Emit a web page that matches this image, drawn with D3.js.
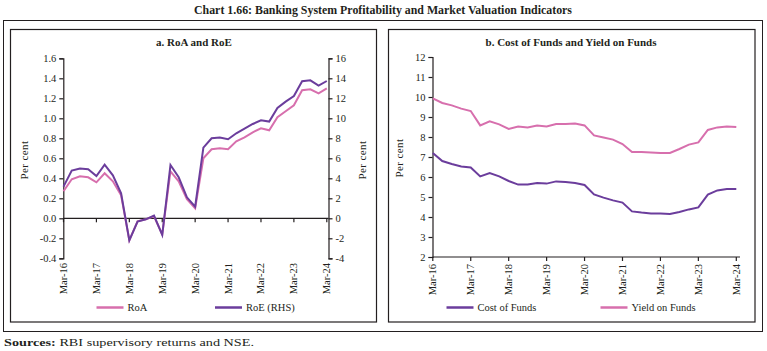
<!DOCTYPE html>
<html>
<head>
<meta charset="utf-8">
<script src="https://cdn.jsdelivr.net/npm/d3@7"></script>
<style>
  body { margin: 0; background: #fff; }
  svg text { font-family: "Liberation Serif", "Times New Roman", serif; fill: #231f20; }
</style>
</head>
<body>
<svg id="chart" width="767" height="351"></svg>
<script>
// Quarterly labels, Mar-16 .. Mar-24
const quarters = ["Mar-16", "Jun-16", "Sep-16", "Dec-16", "Mar-17", "Jun-17", "Sep-17", "Dec-17",
    "Mar-18", "Jun-18", "Sep-18", "Dec-18", "Mar-19", "Jun-19", "Sep-19", "Dec-19",
    "Mar-20", "Jun-20", "Sep-20", "Dec-20", "Mar-21", "Jun-21", "Sep-21", "Dec-21",
    "Mar-22", "Jun-22", "Sep-22", "Dec-22", "Mar-23", "Jun-23", "Sep-23", "Dec-23", "Mar-24"];
const xTickLabels = ["Mar-16", "Mar-17", "Mar-18", "Mar-19", "Mar-20", "Mar-21", "Mar-22", "Mar-23", "Mar-24"];

// a. RoA (left axis) and RoE (right axis), per cent
const roa = [0.27, 0.39, 0.42, 0.41, 0.36, 0.45, 0.37, 0.23, -0.22, -0.03, -0.01, 0.02, -0.16, 0.47, 0.37, 0.19,
    0.10, 0.60, 0.69, 0.70, 0.69, 0.77, 0.81, 0.86, 0.90, 0.88, 1.01, 1.07, 1.13, 1.28, 1.29, 1.25, 1.30];
const roe = [3.17, 4.77, 4.97, 4.90, 4.23, 5.37, 4.30, 2.50, -2.20, -0.33, -0.10, 0.27, -1.67, 5.33, 4.10, 2.10,
    1.17, 7.07, 8.00, 8.07, 7.90, 8.50, 8.97, 9.43, 9.80, 9.67, 11.03, 11.67, 12.23, 13.70, 13.80, 13.27, 13.73];
const roaTicks = [-0.4, -0.2, 0, 0.2, 0.4, 0.6, 0.8, 1.0, 1.2, 1.4, 1.6];
const roeTicks = [-4, -2, 0, 2, 4, 6, 8, 10, 12, 14, 16];

// b. Cost of funds and yield on funds, per cent
const costOfFunds = [7.20, 6.80, 6.65, 6.53, 6.48, 6.03, 6.20, 6.03, 5.80, 5.62, 5.62, 5.70, 5.67, 5.78, 5.75, 5.70,
    5.60, 5.13, 4.97, 4.83, 4.72, 4.28, 4.22, 4.18, 4.17, 4.15, 4.25, 4.38, 4.48, 5.12, 5.33, 5.40, 5.40];
const yieldOnFunds = [9.93, 9.70, 9.58, 9.42, 9.30, 8.58, 8.78, 8.63, 8.40, 8.52, 8.48, 8.57, 8.53, 8.65, 8.65, 8.68,
    8.58, 8.08, 7.98, 7.87, 7.65, 7.25, 7.25, 7.23, 7.20, 7.20, 7.40, 7.62, 7.73, 8.35, 8.48, 8.53, 8.50];
const fundsTicks = [2, 3, 4, 5, 6, 7, 8, 9, 10, 11, 12];

const purple = "#6b3d9c";
const pink = "#d76fad";
const ink = "#231f20";

// plain hyphen for negatives, as in the original
const locale = d3.formatLocale({decimal: ".", thousands: ",", grouping: [3], currency: ["", ""], minus: "-"});

const svg = d3.select("#chart");

// Chart title
svg.append("text")
    .attr("x", 383).attr("y", 14)
    .attr("text-anchor", "middle")
    .attr("font-weight", "bold")
    .attr("font-size", 12)
    .attr("textLength", 378)
    .attr("lengthAdjust", "spacingAndGlyphs")
    .text("Chart 1.66: Banking System Profitability and Market Valuation Indicators");

// Frames
svg.append("rect").attr("x", 3.5).attr("y", 20.5).attr("width", 759).attr("height", 311)
    .attr("fill", "none").attr("stroke", ink).attr("stroke-width", 1);
svg.append("rect").attr("x", 10.5).attr("y", 29.5).attr("width", 366).attr("height", 292.5)
    .attr("fill", "none").attr("stroke", ink).attr("stroke-width", 1.2);
svg.append("rect").attr("x", 388.5).attr("y", 29.5).attr("width", 366.5).attr("height", 292.5)
    .attr("fill", "none").attr("stroke", ink).attr("stroke-width", 1.2);

// Sources note
const src = svg.append("text").attr("x", 4).attr("y", 346).attr("font-size", 11)
    .attr("textLength", 250).attr("lengthAdjust", "spacingAndGlyphs");
src.append("tspan").attr("font-weight", "bold").text("Sources:");
src.append("tspan").text(" RBI supervisory returns and NSE.");

// helpers
function yTickAxis(g, scale, ticks, side, fmt) {
    const axis = (side === "left" ? d3.axisLeft(scale) : d3.axisRight(scale))
        .tickValues(ticks).tickSize(4).tickPadding(3).tickFormat(fmt);
    g.call(axis);
    g.select(".domain").attr("stroke", ink).attr("stroke-width", 1.2);
    g.selectAll(".tick line").attr("stroke", ink).attr("stroke-width", 1.2);
    g.selectAll(".tick text").attr("font-size", 10.5).attr("font-family", "Liberation Serif").attr("fill", ink);
}

function xLabels(g, x, yTop) {
    g.selectAll("text.xl")
        .data(xTickLabels)
        .join("text")
        .attr("class", "xl")
        .attr("font-size", 10.5)
        .attr("text-anchor", "end")
        .attr("transform", d => `translate(${x(quarters.indexOf(d)) + 3.5},${yTop}) rotate(-90)`)
        .text(d => d);
}

function legendItem(g, x1, y, color, label) {
    g.append("line").attr("x1", x1).attr("x2", x1 + 27).attr("y1", y).attr("y2", y)
        .attr("stroke", color).attr("stroke-width", 2.5);
    g.append("text").attr("x", x1 + 31).attr("y", y + 3.5).attr("font-size", 10.5).text(label);
}

function perCent(g, x, y) {
    g.append("text").attr("transform", `translate(${x},${y}) rotate(-90)`)
        .attr("text-anchor", "middle").attr("font-size", 11).attr("letter-spacing", 0.4).text("Per cent");
}

// ---------- Panel a: RoA and RoE ----------
const pa = svg.append("g");
pa.append("text").attr("x", 194).attr("y", 46).attr("text-anchor", "middle")
    .attr("font-weight", "bold").attr("font-size", 11).text("a. RoA and RoE");

const xa = d3.scaleLinear().domain([0, quarters.length - 1]).range([63.5, 326.8]);
const yRoa = d3.scaleLinear().domain([-0.4, 1.6]).range([258.3, 58.3]);
const yRoe = d3.scaleLinear().domain([-4, 16]).range([258.3, 58.3]);

yTickAxis(pa.append("g").attr("transform", "translate(63.3,0)"), yRoa, roaTicks, "left", locale.format(".1f"));
yTickAxis(pa.append("g").attr("transform", "translate(328.5,0)"), yRoe, roeTicks, "right", locale.format("d"));

// zero line with yearly ticks
const za = pa.append("g").attr("transform", `translate(0,${yRoa(0)})`);
za.append("line").attr("x1", 63.3).attr("x2", 328.5).attr("stroke", ink).attr("stroke-width", 1.2);
za.selectAll("line.t").data(xTickLabels).join("line").attr("class", "t")
    .attr("x1", d => xa(quarters.indexOf(d))).attr("x2", d => xa(quarters.indexOf(d)))
    .attr("y1", 0).attr("y2", 4).attr("stroke", ink).attr("stroke-width", 1.2);
xLabels(pa, xa, 263);

const lineRoa = d3.line().x((d, i) => xa(i)).y(d => yRoa(d));
const lineRoe = d3.line().x((d, i) => xa(i)).y(d => yRoe(d));
pa.append("path").datum(roa).attr("d", lineRoa).attr("fill", "none").attr("stroke", pink).attr("stroke-width", 2);
pa.append("path").datum(roe).attr("d", lineRoe).attr("fill", "none").attr("stroke", purple).attr("stroke-width", 2);

perCent(pa, 28, 160);
perCent(pa, 366, 160);
legendItem(pa, 96.5, 307.5, pink, "RoA");
legendItem(pa, 215, 307.5, purple, "RoE (RHS)");

// ---------- Panel b: Cost of Funds and Yield on Funds ----------
const pb = svg.append("g");
pb.append("text").attr("x", 571).attr("y", 46).attr("text-anchor", "middle")
    .attr("font-weight", "bold").attr("font-size", 11).text("b. Cost of Funds and Yield on Funds");

const xb = d3.scaleLinear().domain([0, quarters.length - 1]).range([432.8, 736.3]);
const yb = d3.scaleLinear().domain([2, 12]).range([257, 57]);

yTickAxis(pb.append("g").attr("transform", "translate(432.5,0)"), yb, fundsTicks, "left", locale.format("d"));

const zb = pb.append("g").attr("transform", `translate(0,${yb(2)})`);
zb.append("line").attr("x1", 432.5).attr("x2", 740).attr("stroke", ink).attr("stroke-width", 1.2);
zb.selectAll("line.t").data(xTickLabels).join("line").attr("class", "t")
    .attr("x1", d => xb(quarters.indexOf(d))).attr("x2", d => xb(quarters.indexOf(d)))
    .attr("y1", 0).attr("y2", 4).attr("stroke", ink).attr("stroke-width", 1.2);
xLabels(pb, xb, 264);

const lineB = d3.line().x((d, i) => xb(i)).y(d => yb(d));
pb.append("path").datum(yieldOnFunds).attr("d", lineB).attr("fill", "none").attr("stroke", pink).attr("stroke-width", 2);
pb.append("path").datum(costOfFunds).attr("d", lineB).attr("fill", "none").attr("stroke", purple).attr("stroke-width", 2);

perCent(pb, 403, 158);
legendItem(pb, 446.5, 307.5, purple, "Cost of Funds");
legendItem(pb, 600.5, 307.5, pink, "Yield on Funds");
</script>
</body>
</html>
